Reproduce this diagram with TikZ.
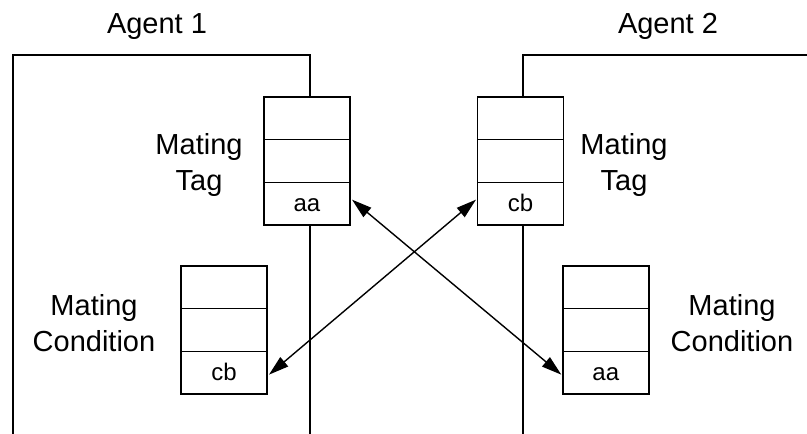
\documentclass[tikz,border=0pt]{standalone}
\usepackage{fontspec}
\setmainfont{Liberation Sans}
\usetikzlibrary{arrows.meta}
\begin{document}
\begin{tikzpicture}[x=1pt,y=-1pt,
  cell/.style={draw,line width=1.5pt,minimum width=86pt,minimum height=42.7pt,
    inner sep=0pt,outer sep=0pt,anchor=north,text height=15.4pt,text depth=0pt,
    font=\fontsize{24}{28}\selectfont},
  lbl/.style={align=center,inner sep=0pt,font=\fontsize{29}{36}\selectfont},
  title/.style={inner sep=0pt,anchor=base,font=\fontsize{29}{34}\selectfont},
  border/.style={line width=1.6pt},
  link/.style={line width=1.4pt,{Triangle[length=20pt,width=12pt]}-{Triangle[length=20pt,width=12pt]}}]
\useasboundingbox (0,0) rectangle (807,434);

% Agent 1
\node[title] (ag1) at (157,33.3) {Agent 1};
\coordinate (a1bl) at (13,434);
\coordinate (a1tl) at (13,55);
\coordinate (a1tr) at (310,55);
\coordinate (a1br) at (310,434);
\node[cell] (t1a) at (307,97) {};
\node[cell] (t1b) at (307,139.7) {};
\node[cell] (t1c) at (307,182.3) {aa};
\node[cell] (c1a) at (224,266) {};
\node[cell] (c1b) at (224,308.7) {};
\node[cell] (c1c) at (224,351.3) {cb};
\node[lbl] (l1t) at (199,165) {Mating\\Tag};
\node[lbl] (l1c) at (94,323) {Mating\\Condition};
\draw[border] (a1bl) -- (a1tl) -- (a1tr) -- (a1tr |- t1a.north);
\draw[border] (a1tr |- t1c.south) -- (a1br);

% Agent 2
\node[title] (ag2) at (668,33.3) {Agent 2};
\coordinate (a2tr) at (807,55);
\coordinate (a2tl) at (522.7,55);
\coordinate (a2bl) at (522.7,434);
\node[cell] (t2a) at (520.5,97) {};
\node[cell] (t2b) at (520.5,139.7) {};
\node[cell] (t2c) at (520.5,182.3) {cb};
\node[cell] (c2a) at (605.8,266) {};
\node[cell] (c2b) at (605.8,308.7) {};
\node[cell] (c2c) at (605.8,351.3) {aa};
\node[lbl] (l2t) at (624,165) {Mating\\Tag};
\node[lbl] (l2c) at (732,323) {Mating\\Condition};
\draw[border] (a2tr) -- (a2tl) -- (a2tl |- t2a.north);
\draw[border] (a2tl |- t2c.south) -- (a2bl);

% links
\draw[link] ([xshift=2pt,yshift=4pt]t1c.east) -- ([xshift=-1.5pt,yshift=-2pt]c2c.west);
\draw[link] ([xshift=-1.5pt,yshift=4pt]t2c.west) -- ([xshift=2pt,yshift=-2pt]c1c.east);
\end{tikzpicture}
\end{document}
